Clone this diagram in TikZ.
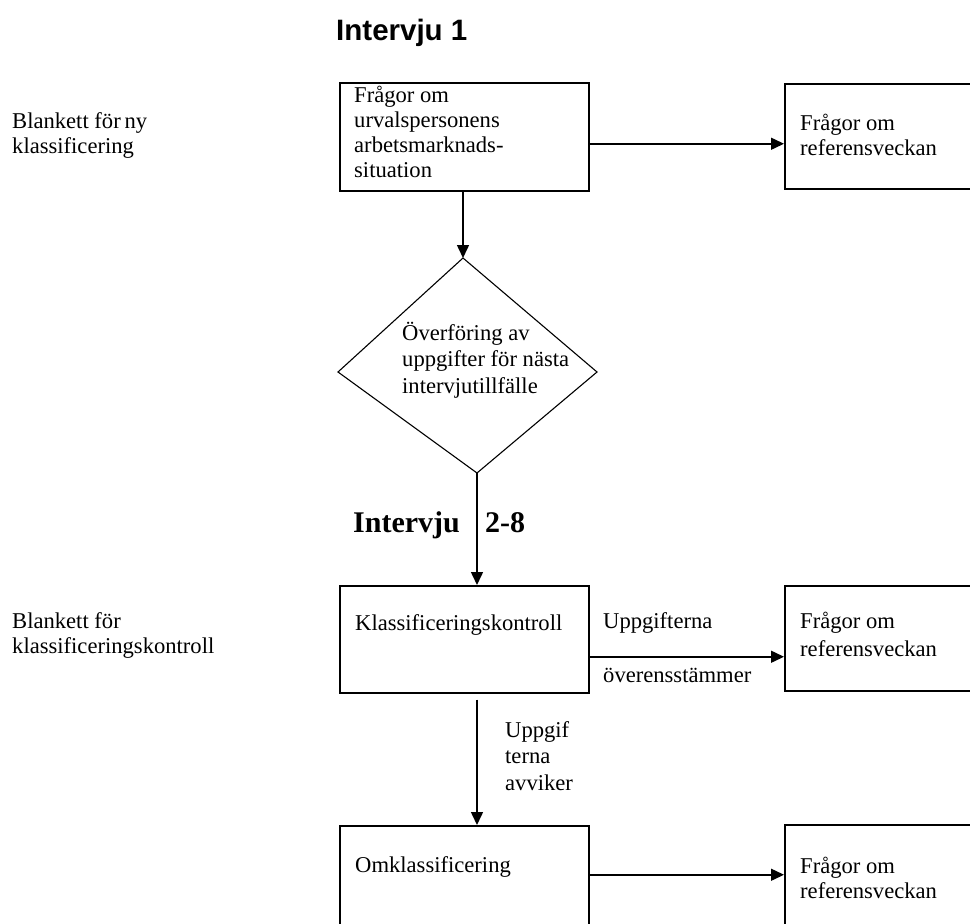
\documentclass[tikz,border=0pt]{standalone}
\usepackage{fontspec}
\setmainfont{Liberation Serif}
\setsansfont{Liberation Sans}
\usetikzlibrary{arrows.meta}
\tikzset{
  box/.style={draw, line width=1.5pt, rectangle, inner sep=0pt, anchor=north west},
  txt/.style={inner sep=0pt, anchor=base west, align=left, font=\fontsize{22.6}{25}\selectfont},
  txtd/.style={inner sep=0pt, anchor=base west, align=left, font=\fontsize{22.6}{26.5}\selectfont},
  arr/.style={line width=1.5pt, -{Triangle[length=13pt,width=12pt]}},
}
\begin{document}
\begin{tikzpicture}[x=1pt,y=-1pt]
\useasboundingbox (0,0) rectangle (970,924);
\clip (0,0) rectangle (970,924);
% title
\node[inner sep=0pt, anchor=base west, font=\sffamily\bfseries\fontsize{29.5}{32}\selectfont] (t1) at (336,40) {Intervju 1};
% left labels (anchored at baseline of last line)
\node[txt] (l1) at (12,153) {Blankett för\,ny\\klassificering};
\node[txt] (l2) at (12,653) {Blankett för\\klassificeringskontroll};
% boxes
\node[box, minimum width=249pt, minimum height=108pt] (A) at (339,82) {};
\node[txt] (At) at (354,177) {Frågor om\\urvalspersonens\\arbetsmarknads-\\situation};
\node[box, minimum width=260pt, minimum height=105pt] (R1) at (784,83) {};
\node[txt] (R1t) at (800,155) {Frågor om\\referensveckan};
% diamond
\coordinate (Dt) at (463,258);
\coordinate (Dl) at (338,372);
\coordinate (Dr) at (597,372);
\coordinate (Db) at (477,473);
\draw[line width=1.1pt, line join=miter] (Dt) -- (Dr) -- (Db) -- (Dl) -- cycle;
\node[txtd] (Dtx) at (402,393) {Överföring av\\uppgifter för nästa\\intervjutillfälle};
% Intervju 2-8
\node[inner sep=0pt, anchor=base west, font=\bfseries\fontsize{30}{32}\selectfont] (t2a) at (353,532) {Intervju};
\node[inner sep=0pt, anchor=base west, font=\bfseries\fontsize{30}{32}\selectfont] (t2b) at (485,532) {2-8};
% K box
\node[box, minimum width=249pt, minimum height=107pt] (K) at (339,585) {};
\node[txt] (Kt) at (355,630) {Klassificeringskontroll};
\node[box, minimum width=260pt, minimum height=105pt] (R2) at (784,585) {};
\node[txt, font=\fontsize{22.6}{28}\selectfont] (R2t) at (800,656) {Frågor om\\referensveckan};
\node[txt] (u1) at (603,628) {Uppgifterna};
\node[txt] (u2) at (603,682) {överensstämmer};
\node[txtd] (u3) at (505,790) {Uppgif\\terna\\avviker};
% O box
\node[box, minimum width=249pt, minimum height=140pt] (O) at (339,825) {};
\node[txt] (Ot) at (355,872) {Omklassificering};
\node[box, minimum width=260pt, minimum height=140pt] (R3) at (784,824) {};
\node[txt] (R3t) at (800,898) {Frågor om\\referensveckan};
% connectors
\draw[arr] ([yshift=-7pt]A.east) -- ([yshift=-7.5pt]R1.west);
\draw[arr] (A.south -| Dt) -- (Dt);
\draw[arr] (Db) -- (Db |- K.north);
\draw[arr] ([yshift=-17.5pt]K.east) -- ([yshift=-18.5pt]R2.west);
\draw[arr] ([yshift=-6pt]K.south -| Db) -- (O.north -| Db);
\draw[arr] ([yshift=21pt]O.east) -- ([yshift=20pt]R3.west);
\end{tikzpicture}
\end{document}
